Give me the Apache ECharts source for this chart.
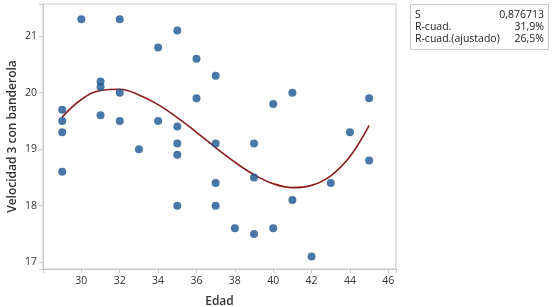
<!DOCTYPE html>
<html>
<head>
<meta charset="utf-8">
<script src="https://cdn.jsdelivr.net/npm/echarts@6/dist/echarts.min.js"></script>
<style>
  html, body { margin: 0; padding: 0; background: #fff; }
  #chart { width: 554px; height: 307px; }
</style>
</head>
<body>
<div id="chart"></div>
<script>
// edad / velocidad (puntos observados)
var edad = [30, 32, 35, 34, 36, 37, 31, 31, 32, 36, 40, 41, 45, 29, 31, 29, 32, 34, 35, 29, 33, 35, 37, 39, 35, 44, 45, 29, 37, 35, 37, 38, 39, 40, 39, 41, 43, 42];
var velocidad = [21.3, 21.3, 21.1, 20.8, 20.6, 20.3, 20.2, 20.1, 20.0, 19.9, 19.8, 20.0, 19.9, 19.7, 19.6, 19.5, 19.5, 19.5, 19.4, 19.3, 19.0, 19.1, 19.1, 19.1, 18.9, 19.3, 18.8, 18.6, 18.4, 18.0, 18.0, 17.6, 17.5, 17.6, 18.5, 18.1, 18.4, 17.1];

// curva ajustada (cubica)
var ajusteX = [29, 30, 31, 32, 33, 34, 35, 36, 37, 38, 39, 40, 41, 42, 43, 44, 45];
var ajusteY = [19.57, 19.88, 20.04, 20.06, 19.96, 19.79, 19.56, 19.30, 19.03, 18.77, 18.55, 18.39, 18.32, 18.36, 18.53, 18.87, 19.42];

// tabla de resumen
var statNombres = ['S', 'R-cuad.', 'R-cuad.(ajustado)'];
var statValores = ['0,876713', '31,9%', '26,5%'];

var puntos = edad.map(function (x, i) { return [x, velocidad[i]]; });
var curva = ajusteX.map(function (x, i) { return [x, ajusteY[i]]; });

var fuente = '"Open Sans", "Noto Sans", sans-serif';
var myChart = echarts.init(document.getElementById('chart'));

// cuadro de estadisticas
var cuadro = [{
    type: 'rect',
    shape: { x: 410.5, y: 4.5, width: 138, height: 45 },
    style: { fill: '#fff', stroke: '#c8c8c8', lineWidth: 1 }
}];
statNombres.forEach(function (n, i) {
    cuadro.push({
        type: 'text', x: 415, y: 15 + i * 12.2,
        style: { text: n, fill: '#222', font: '10.5px ' + fuente, textVerticalAlign: 'middle' }
    });
    cuadro.push({
        type: 'text', x: 544, y: 15 + i * 12.2,
        style: { text: statValores[i], fill: '#222', font: '10.5px ' + fuente, textAlign: 'right', textVerticalAlign: 'middle' }
    });
});

var option = {
    backgroundColor: '#fff',
    animation: false,
    grid: {
        left: 43, top: 4, right: 158, bottom: 38,
        outerBoundsMode: 'none',
        containLabel: false,
        show: true, borderColor: '#c8c8c8', borderWidth: 1
    },
    xAxis: {
        type: 'value',
        min: 28, max: 46.4, interval: 2,
        name: 'Edad',
        nameLocation: 'middle',
        nameGap: 27,
        nameMoveOverlap: false,
        nameTextStyle: { fontFamily: fuente, fontSize: 12, color: '#333', fontWeight: 600 },
        axisLine: { show: true, lineStyle: { color: '#c8c8c8' } },
        axisTick: { show: true, length: 4, lineStyle: { color: '#c8c8c8' } },
        axisLabel: {
            fontFamily: fuente, fontSize: 10.5, color: '#333', margin: 7,
            formatter: function (v) { return (v > 28 && v % 2 === 0) ? String(v) : ''; }
        },
        splitLine: { show: false }
    },
    yAxis: {
        type: 'value',
        min: 16.88, max: 21.57, splitNumber: 5,
        name: 'Velocidad 3 con banderola',
        nameLocation: 'middle',
        nameGap: 24,
        nameMoveOverlap: false,
        nameTextStyle: { fontFamily: fuente, fontSize: 12, color: '#333', fontWeight: 600 },
        axisLine: { show: true, lineStyle: { color: '#c8c8c8' } },
        axisTick: { show: true, length: 4, lineStyle: { color: '#c8c8c8' } },
        axisLabel: {
            fontFamily: fuente, fontSize: 10.5, color: '#333', margin: 6,
            formatter: function (v) { return Math.abs(v - Math.round(v)) < 1e-6 ? String(Math.round(v)) : ''; }
        },
        splitLine: { show: false }
    },
    series: [
        {
            type: 'scatter',
            data: puntos,
            symbol: 'circle',
            symbolSize: 8,
            itemStyle: { color: '#1c5592' },
            z: 3
        },
        {
            type: 'line',
            data: curva,
            smooth: 0.4,
            showSymbol: false,
            lineStyle: { color: '#8c1c1c', width: 1.6 },
            z: 2
        }
    ],
    graphic: cuadro
};

myChart.setOption(option);
</script>
</body>
</html>
